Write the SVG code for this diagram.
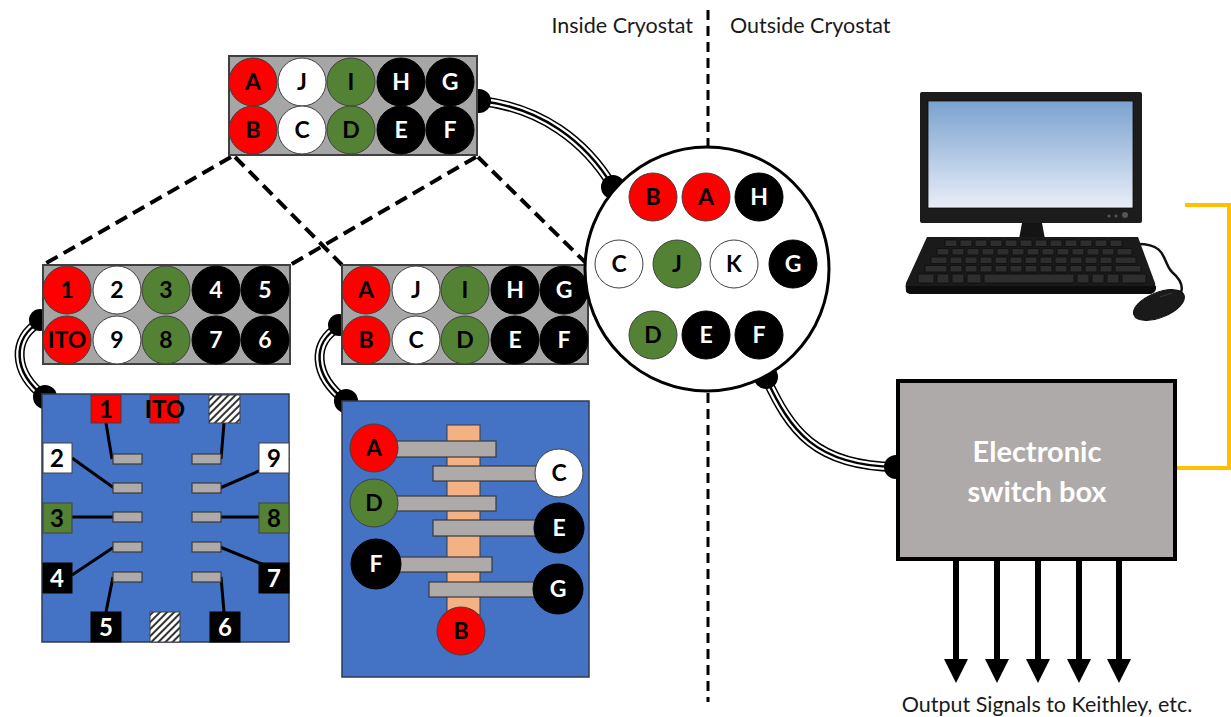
<svg xmlns="http://www.w3.org/2000/svg" width="1231" height="717" viewBox="0 0 1231 717">
<style>
  .red{fill:#ff0000;stroke:#404040;stroke-width:1}
  .wht{fill:#ffffff;stroke:#404040;stroke-width:1}
  .grn{fill:#548235;stroke:#404040;stroke-width:1}
  .blk{fill:#000000;stroke:#000000;stroke-width:1}
  .plug{fill:#a6a6a6;stroke:#404040;stroke-width:2}
  .lbl{font-family:Lato,"Liberation Sans",sans-serif;font-weight:bold;font-size:23px;text-anchor:middle}
  .pad{font-family:Lato,"Liberation Sans",sans-serif;font-weight:bold;font-size:24px;text-anchor:middle}
  .tb{fill:#000000}
  .tw{fill:#ffffff}
  .note{font-family:Lato,"Liberation Sans",sans-serif;font-size:21.5px;fill:#1a1a1a}
  .dash{stroke:#000;stroke-width:4;stroke-dasharray:13 7;fill:none}
  .split{stroke:#000;stroke-width:3;stroke-dasharray:10 6;fill:none}
  .cab1{fill:none;stroke:#000;stroke-width:10}
  .cab2{fill:none;stroke:#ffffff;stroke-width:7}
  .cab3{fill:none;stroke:#000;stroke-width:2.5}
  .blob{fill:#000}
  .chip{fill:#4472c4;stroke:#2f3b52;stroke-width:1.5}
  .bar{fill:#aeaaaa;stroke:#3a3a3a;stroke-width:1.2}
  .wire{stroke:#000;stroke-width:3;fill:none}
  .key{fill:#2e2e2e;stroke:#0d0d0d;stroke-width:0.8}
  .arrow{stroke:#000;stroke-width:6;fill:none}
</style>
<defs>
  <pattern id="hatch" width="5" height="5" patternUnits="userSpaceOnUse" patternTransform="rotate(45)">
    <rect width="5" height="5" fill="#ffffff"/>
    <rect width="2" height="5" fill="#333333"/>
  </pattern>
  <linearGradient id="screen" x1="0" y1="0" x2="0" y2="1">
    <stop offset="0" stop-color="#7aa2cf"/>
    <stop offset="1" stop-color="#e9eef7"/>
  </linearGradient>
  <path id="c1" d="M 481,101 C 540,108 585,140 613,187"/>
  <path id="c2" d="M 40,322 C 12,338 12,372 45,397"/>
  <path id="c3" d="M 339,327 C 312,342 312,375 346,401"/>
  <path id="c4" d="M 766,378 C 790,430 815,466 896,467"/>
  <polygon id="head" points="-12,0 12,0 0,24"/>
</defs>

<rect width="1231" height="717" fill="#ffffff"/>

<!-- boundary between the two temperature regions -->
<g id="boundary">
  <line class="split" x1="708" y1="10" x2="708" y2="146"/>
  <line class="split" x1="708" y1="393" x2="708" y2="702"/>
  <text class="note" x="693" y="33" text-anchor="end">Inside Cryostat</text>
  <text class="note" x="730" y="33">Outside Cryostat</text>
</g>

<!-- connectors: zoom guides, cables and cable ends -->
<g id="connectors">
  <line class="dash" x1="231" y1="157" x2="43" y2="265"/>
  <line class="dash" x1="235" y1="157" x2="342" y2="265"/>
  <line class="dash" x1="476" y1="157" x2="290" y2="265"/>
  <line class="dash" x1="478" y1="157" x2="588" y2="265"/>

  <use href="#c1" class="cab1"/><use href="#c1" class="cab2"/><use href="#c1" class="cab3"/>
  <use href="#c2" class="cab1"/><use href="#c2" class="cab2"/><use href="#c2" class="cab3"/>
  <use href="#c3" class="cab1"/><use href="#c3" class="cab2"/><use href="#c3" class="cab3"/>
  <use href="#c4" class="cab1"/><use href="#c4" class="cab2"/><use href="#c4" class="cab3"/>

  <circle class="blob" cx="479" cy="101" r="12"/>
  <circle class="blob" cx="613" cy="187" r="12"/>
  <circle class="blob" cx="40" cy="320" r="11"/>
  <circle class="blob" cx="45" cy="397" r="12"/>
  <circle class="blob" cx="339" cy="325" r="11"/>
  <circle class="blob" cx="346" cy="401" r="12"/>
  <circle class="blob" cx="766" cy="377" r="12"/>
  <circle class="blob" cx="896" cy="467" r="12"/>

  <!-- link from the switch box to the computer -->
  <polyline points="1175,468 1229,468 1229,205 1185,205" fill="none" stroke="#ffc000" stroke-width="4"/>

  <!-- output lines -->
  <line class="arrow" x1="956" y1="560" x2="956" y2="662"/>
  <line class="arrow" x1="997" y1="560" x2="997" y2="662"/>
  <line class="arrow" x1="1038" y1="560" x2="1038" y2="662"/>
  <line class="arrow" x1="1079" y1="560" x2="1079" y2="662"/>
  <line class="arrow" x1="1119" y1="560" x2="1119" y2="662"/>
  <use href="#head" x="956" y="659"/>
  <use href="#head" x="997" y="659"/>
  <use href="#head" x="1038" y="659"/>
  <use href="#head" x="1079" y="659"/>
  <use href="#head" x="1119" y="659"/>
</g>

<!-- 10-pin plug, lettered -->
<g id="plug-top">
  <rect class="plug" x="229" y="56" width="248" height="99"/>
  <circle class="red" cx="253" cy="82" r="24"/><text class="lbl tb" x="253" y="82" dy="0.36em">A</text>
  <circle class="wht" cx="302" cy="82" r="24"/><text class="lbl tb" x="302" y="82" dy="0.36em">J</text>
  <circle class="grn" cx="351" cy="82" r="24"/><text class="lbl tb" x="351" y="82" dy="0.36em">I</text>
  <circle class="blk" cx="401" cy="82" r="24"/><text class="lbl tw" x="401" y="82" dy="0.36em">H</text>
  <circle class="blk" cx="450" cy="82" r="24"/><text class="lbl tw" x="450" y="82" dy="0.36em">G</text>
  <circle class="red" cx="253" cy="130" r="24"/><text class="lbl tb" x="253" y="130" dy="0.36em">B</text>
  <circle class="wht" cx="302" cy="130" r="24"/><text class="lbl tb" x="302" y="130" dy="0.36em">C</text>
  <circle class="grn" cx="351" cy="130" r="24"/><text class="lbl tb" x="351" y="130" dy="0.36em">D</text>
  <circle class="blk" cx="401" cy="130" r="24"/><text class="lbl tw" x="401" y="130" dy="0.36em">E</text>
  <circle class="blk" cx="450" cy="130" r="24"/><text class="lbl tw" x="450" y="130" dy="0.36em">F</text>
</g>

<!-- 10-pin plug, numbered -->
<g id="plug-numbered">
  <rect class="plug" x="43" y="265" width="247" height="99"/>
  <circle class="red" cx="67" cy="290" r="24"/><text class="lbl tb" x="67" y="290" dy="0.36em">1</text>
  <circle class="wht" cx="117" cy="290" r="24"/><text class="lbl tb" x="117" y="290" dy="0.36em">2</text>
  <circle class="grn" cx="166" cy="290" r="24"/><text class="lbl tb" x="166" y="290" dy="0.36em">3</text>
  <circle class="blk" cx="216" cy="290" r="24"/><text class="lbl tw" x="216" y="290" dy="0.36em">4</text>
  <circle class="blk" cx="265" cy="290" r="24"/><text class="lbl tw" x="265" y="290" dy="0.36em">5</text>
  <circle class="red" cx="67" cy="340" r="24"/><text class="lbl tb" x="67" y="340" dy="0.36em" font-size="22">ITO</text>
  <circle class="wht" cx="117" cy="340" r="24"/><text class="lbl tb" x="117" y="340" dy="0.36em">9</text>
  <circle class="grn" cx="166" cy="340" r="24"/><text class="lbl tb" x="166" y="340" dy="0.36em">8</text>
  <circle class="blk" cx="216" cy="340" r="24"/><text class="lbl tw" x="216" y="340" dy="0.36em">7</text>
  <circle class="blk" cx="265" cy="340" r="24"/><text class="lbl tw" x="265" y="340" dy="0.36em">6</text>
</g>

<!-- 10-pin plug, lettered (second sample) -->
<g id="plug-lettered">
  <rect class="plug" x="342" y="265" width="246" height="99"/>
  <circle class="red" cx="366" cy="290" r="24"/><text class="lbl tb" x="366" y="290" dy="0.36em">A</text>
  <circle class="wht" cx="416" cy="290" r="24"/><text class="lbl tb" x="416" y="290" dy="0.36em">J</text>
  <circle class="grn" cx="465" cy="290" r="24"/><text class="lbl tb" x="465" y="290" dy="0.36em">I</text>
  <circle class="blk" cx="515" cy="290" r="24"/><text class="lbl tw" x="515" y="290" dy="0.36em">H</text>
  <circle class="blk" cx="564" cy="290" r="24"/><text class="lbl tw" x="564" y="290" dy="0.36em">G</text>
  <circle class="red" cx="366" cy="340" r="24"/><text class="lbl tb" x="366" y="340" dy="0.36em">B</text>
  <circle class="wht" cx="416" cy="340" r="24"/><text class="lbl tb" x="416" y="340" dy="0.36em">C</text>
  <circle class="grn" cx="465" cy="340" r="24"/><text class="lbl tb" x="465" y="340" dy="0.36em">D</text>
  <circle class="blk" cx="515" cy="340" r="24"/><text class="lbl tw" x="515" y="340" dy="0.36em">E</text>
  <circle class="blk" cx="564" cy="340" r="24"/><text class="lbl tw" x="564" y="340" dy="0.36em">F</text>
</g>

<!-- round feedthrough -->
<g id="feedthrough">
  <circle cx="707" cy="269" r="122" fill="#ffffff" stroke="#000" stroke-width="3"/>
  <circle class="red" cx="653" cy="197" r="24"/><text class="lbl tb" x="653" y="197" dy="0.36em">B</text>
  <circle class="red" cx="706" cy="197" r="24"/><text class="lbl tb" x="706" y="197" dy="0.36em">A</text>
  <circle class="blk" cx="759" cy="197" r="24"/><text class="lbl tw" x="759" y="197" dy="0.36em">H</text>
  <circle class="wht" cx="619" cy="264" r="24"/><text class="lbl tb" x="619" y="264" dy="0.36em">C</text>
  <circle class="grn" cx="677" cy="264" r="24"/><text class="lbl tb" x="677" y="264" dy="0.36em">J</text>
  <circle class="wht" cx="734" cy="264" r="24"/><text class="lbl tb" x="734" y="264" dy="0.36em">K</text>
  <circle class="blk" cx="793" cy="264" r="24"/><text class="lbl tw" x="793" y="264" dy="0.36em">G</text>
  <circle class="grn" cx="653" cy="335" r="24"/><text class="lbl tb" x="653" y="335" dy="0.36em">D</text>
  <circle class="blk" cx="706" cy="335" r="24"/><text class="lbl tw" x="706" y="335" dy="0.36em">E</text>
  <circle class="blk" cx="759" cy="335" r="24"/><text class="lbl tw" x="759" y="335" dy="0.36em">F</text>
</g>

<!-- substrate with numbered contact pads -->
<g id="substrate-numbered">
  <rect class="chip" x="42" y="394" width="247" height="248"/>
  <!-- wires from pads to electrodes -->
  <line class="wire" x1="106" y1="423" x2="112" y2="459"/>
  <line class="wire" x1="224" y1="423" x2="221" y2="459"/>
  <line class="wire" x1="72" y1="458" x2="114" y2="488"/>
  <line class="wire" x1="289" y1="458" x2="220" y2="488"/>
  <line class="wire" x1="72" y1="517" x2="113" y2="517"/>
  <line class="wire" x1="289" y1="517" x2="221" y2="517"/>
  <line class="wire" x1="72" y1="575" x2="114" y2="547"/>
  <line class="wire" x1="289" y1="575" x2="220" y2="547"/>
  <line class="wire" x1="106" y1="612" x2="113" y2="577"/>
  <line class="wire" x1="224" y1="612" x2="221" y2="577"/>
  <!-- electrodes -->
  <rect class="bar" x="113" y="454" width="29" height="10"/>
  <rect class="bar" x="113" y="483" width="29" height="10"/>
  <rect class="bar" x="113" y="512" width="29" height="10"/>
  <rect class="bar" x="113" y="542" width="29" height="10"/>
  <rect class="bar" x="113" y="572" width="29" height="10"/>
  <rect class="bar" x="192" y="454" width="29" height="10"/>
  <rect class="bar" x="192" y="483" width="29" height="10"/>
  <rect class="bar" x="192" y="512" width="29" height="10"/>
  <rect class="bar" x="192" y="542" width="29" height="10"/>
  <rect class="bar" x="192" y="572" width="29" height="10"/>
  <!-- pads -->
  <rect class="red" x="91" y="395" width="30" height="28"/><text class="pad tb" x="106" y="409" dy="0.36em">1</text>
  <rect class="red" x="150" y="395" width="29" height="28"/><text class="pad tb" x="165" y="409" dy="0.36em" font-size="22">ITO</text>
  <rect x="209" y="395" width="31" height="28" fill="url(#hatch)" stroke="#404040" stroke-width="1"/>
  <rect class="wht" x="43" y="443" width="29" height="30"/><text class="pad tb" x="57" y="458" dy="0.36em">2</text>
  <rect class="wht" x="259" y="443" width="30" height="30"/><text class="pad tb" x="274" y="458" dy="0.36em">9</text>
  <rect class="grn" x="43" y="503" width="29" height="30"/><text class="pad tb" x="57" y="518" dy="0.36em">3</text>
  <rect class="grn" x="259" y="503" width="30" height="30"/><text class="pad tb" x="274" y="518" dy="0.36em">8</text>
  <rect class="blk" x="43" y="563" width="29" height="30"/><text class="pad tw" x="57" y="578" dy="0.36em">4</text>
  <rect class="blk" x="259" y="563" width="30" height="30"/><text class="pad tw" x="274" y="578" dy="0.36em">7</text>
  <rect class="blk" x="91" y="612" width="30" height="30"/><text class="pad tw" x="106" y="627" dy="0.36em">5</text>
  <rect x="150" y="612" width="30" height="30" fill="url(#hatch)" stroke="#404040" stroke-width="1"/>
  <rect class="blk" x="210" y="612" width="30" height="30"/><text class="pad tw" x="225" y="627" dy="0.36em">6</text>
</g>

<!-- substrate with lettered contacts -->
<g id="substrate-lettered">
  <rect class="chip" x="342" y="401" width="247" height="276"/>
  <rect x="447" y="425" width="33" height="190" fill="#f4b183" stroke="#3a3a3a" stroke-width="1"/>
  <rect class="bar" x="390" y="441" width="106" height="16"/>
  <rect class="bar" x="433" y="466" width="110" height="15"/>
  <rect class="bar" x="390" y="496" width="106" height="15"/>
  <rect class="bar" x="433" y="520" width="110" height="16"/>
  <rect class="bar" x="392" y="557" width="100" height="15"/>
  <rect class="bar" x="429" y="582" width="114" height="15"/>
  <circle class="red" cx="374" cy="448" r="24"/><text class="lbl tb" x="374" y="448" dy="0.36em">A</text>
  <circle class="wht" cx="559" cy="473" r="24"/><text class="lbl tb" x="559" y="473" dy="0.36em">C</text>
  <circle class="grn" cx="374" cy="503" r="24"/><text class="lbl tb" x="374" y="503" dy="0.36em">D</text>
  <circle class="blk" cx="559" cy="528" r="25"/><text class="lbl tw" x="559" y="528" dy="0.36em">E</text>
  <circle class="blk" cx="376" cy="564" r="25"/><text class="lbl tw" x="376" y="564" dy="0.36em">F</text>
  <circle class="blk" cx="558" cy="589" r="25"/><text class="lbl tw" x="558" y="589" dy="0.36em">G</text>
  <circle class="red" cx="461" cy="631" r="24"/><text class="lbl tb" x="461" y="631" dy="0.36em">B</text>
</g>

<!-- desktop computer -->
<g id="computer">
  <path d="M 1138,244 C 1168,244 1162,262 1172,272 C 1186,284 1184,296 1172,300" fill="none" stroke="#111" stroke-width="2.5"/>
  <rect x="920" y="92" width="222" height="131" rx="2" fill="#1c1c1c"/>
  <rect x="928" y="101" width="205" height="107" fill="url(#screen)" stroke="#0d0d0d" stroke-width="0.8"/>
  <circle cx="1109" cy="216" r="1.6" fill="#555"/>
  <circle cx="1116" cy="216" r="1.6" fill="#555"/>
  <circle cx="1125" cy="215" r="3" fill="#555"/>
  <polygon points="1022,223 1042,223 1045,239 1019,239" fill="#141414"/>
  <path d="M 927,237 L 1138,237 L 1155,283 Q 1157,294 1148,294 L 912,294 Q 904,294 906,283 Z" fill="#1a1a1a"/>
  <path d="M 906,286 L 1156,286 L 1156,289 Q 1155,294 1148,294 L 912,294 Q 905,294 906,289 Z" fill="#0c0c0c"/>
  <g id="keys">
    <rect class="key" x="945" y="240" width="12" height="6.5" rx="1"/><rect class="key" x="960" y="240" width="12" height="6.5" rx="1"/><rect class="key" x="975" y="240" width="12" height="6.5" rx="1"/><rect class="key" x="990" y="240" width="12" height="6.5" rx="1"/><rect class="key" x="1005" y="240" width="12" height="6.5" rx="1"/><rect class="key" x="1020" y="240" width="12" height="6.5" rx="1"/><rect class="key" x="1035" y="240" width="12" height="6.5" rx="1"/><rect class="key" x="1050" y="240" width="12" height="6.5" rx="1"/><rect class="key" x="1065" y="240" width="12" height="6.5" rx="1"/><rect class="key" x="1080" y="240" width="12" height="6.5" rx="1"/><rect class="key" x="1095" y="240" width="12" height="6.5" rx="1"/><rect class="key" x="1110" y="240" width="12" height="6.5" rx="1"/>
    <rect class="key" x="937" y="248.5" width="12" height="6.5" rx="1"/><rect class="key" x="952" y="248.5" width="12" height="6.5" rx="1"/><rect class="key" x="967" y="248.5" width="12" height="6.5" rx="1"/><rect class="key" x="982" y="248.5" width="12" height="6.5" rx="1"/><rect class="key" x="997" y="248.5" width="12" height="6.5" rx="1"/><rect class="key" x="1012" y="248.5" width="12" height="6.5" rx="1"/><rect class="key" x="1027" y="248.5" width="12" height="6.5" rx="1"/><rect class="key" x="1042" y="248.5" width="12" height="6.5" rx="1"/><rect class="key" x="1057" y="248.5" width="12" height="6.5" rx="1"/><rect class="key" x="1072" y="248.5" width="12" height="6.5" rx="1"/><rect class="key" x="1087" y="248.5" width="12" height="6.5" rx="1"/><rect class="key" x="1102" y="248.5" width="12" height="6.5" rx="1"/><rect class="key" x="1117" y="248.5" width="15" height="6.5" rx="1"/>
    <rect class="key" x="931" y="257" width="16" height="6.5" rx="1"/><rect class="key" x="950" y="257" width="12" height="6.5" rx="1"/><rect class="key" x="965" y="257" width="12" height="6.5" rx="1"/><rect class="key" x="980" y="257" width="12" height="6.5" rx="1"/><rect class="key" x="995" y="257" width="12" height="6.5" rx="1"/><rect class="key" x="1010" y="257" width="12" height="6.5" rx="1"/><rect class="key" x="1025" y="257" width="12" height="6.5" rx="1"/><rect class="key" x="1040" y="257" width="12" height="6.5" rx="1"/><rect class="key" x="1055" y="257" width="12" height="6.5" rx="1"/><rect class="key" x="1070" y="257" width="12" height="6.5" rx="1"/><rect class="key" x="1085" y="257" width="12" height="6.5" rx="1"/><rect class="key" x="1100" y="257" width="12" height="6.5" rx="1"/><rect class="key" x="1115" y="257" width="21" height="6.5" rx="1"/>
    <rect class="key" x="925" y="265.5" width="22" height="6.5" rx="1"/><rect class="key" x="950" y="265.5" width="12" height="6.5" rx="1"/><rect class="key" x="965" y="265.5" width="12" height="6.5" rx="1"/><rect class="key" x="980" y="265.5" width="12" height="6.5" rx="1"/><rect class="key" x="995" y="265.5" width="12" height="6.5" rx="1"/><rect class="key" x="1010" y="265.5" width="12" height="6.5" rx="1"/><rect class="key" x="1025" y="265.5" width="12" height="6.5" rx="1"/><rect class="key" x="1040" y="265.5" width="12" height="6.5" rx="1"/><rect class="key" x="1055" y="265.5" width="12" height="6.5" rx="1"/><rect class="key" x="1070" y="265.5" width="12" height="6.5" rx="1"/><rect class="key" x="1085" y="265.5" width="12" height="6.5" rx="1"/><rect class="key" x="1100" y="265.5" width="12" height="6.5" rx="1"/><rect class="key" x="1115" y="265.5" width="26" height="6.5" rx="1"/>
    <rect class="key" x="918" y="274" width="16" height="9" rx="1"/><rect class="key" x="937" y="274" width="12" height="9" rx="1"/><rect class="key" x="952" y="274" width="12" height="9" rx="1"/><rect class="key" x="967" y="274" width="14" height="9" rx="1"/><rect class="key" x="984" y="274" width="90" height="9" rx="1"/><rect class="key" x="1077" y="274" width="12" height="9" rx="1"/><rect class="key" x="1092" y="274" width="12" height="9" rx="1"/><rect class="key" x="1107" y="274" width="12" height="9" rx="1"/><rect class="key" x="1122" y="274" width="24" height="9" rx="1"/>
  </g>
  <ellipse cx="1159" cy="305" rx="27" ry="12.5" transform="rotate(-22 1159 305)" fill="#1a1a1a" stroke="#0a0a0a" stroke-width="1"/>
  <path d="M 1160,297 L 1172,293" stroke="#3a3a3a" stroke-width="1" fill="none"/>
</g>

<!-- switch box -->
<g id="switch-box">
  <rect x="898" y="381" width="277" height="178" fill="#aeaaaa" stroke="#000" stroke-width="4"/>
  <text x="1037" y="462" text-anchor="middle" font-family="Lato,'Liberation Sans',sans-serif" font-weight="bold" font-size="29" fill="#ffffff">Electronic</text>
  <text x="1037" y="502" text-anchor="middle" font-family="Lato,'Liberation Sans',sans-serif" font-weight="bold" font-size="29" fill="#ffffff">switch box</text>
</g>

<g id="output-label">
  <text class="note" x="1047" y="712" text-anchor="middle">Output Signals to Keithley, etc.</text>
</g>
</svg>
